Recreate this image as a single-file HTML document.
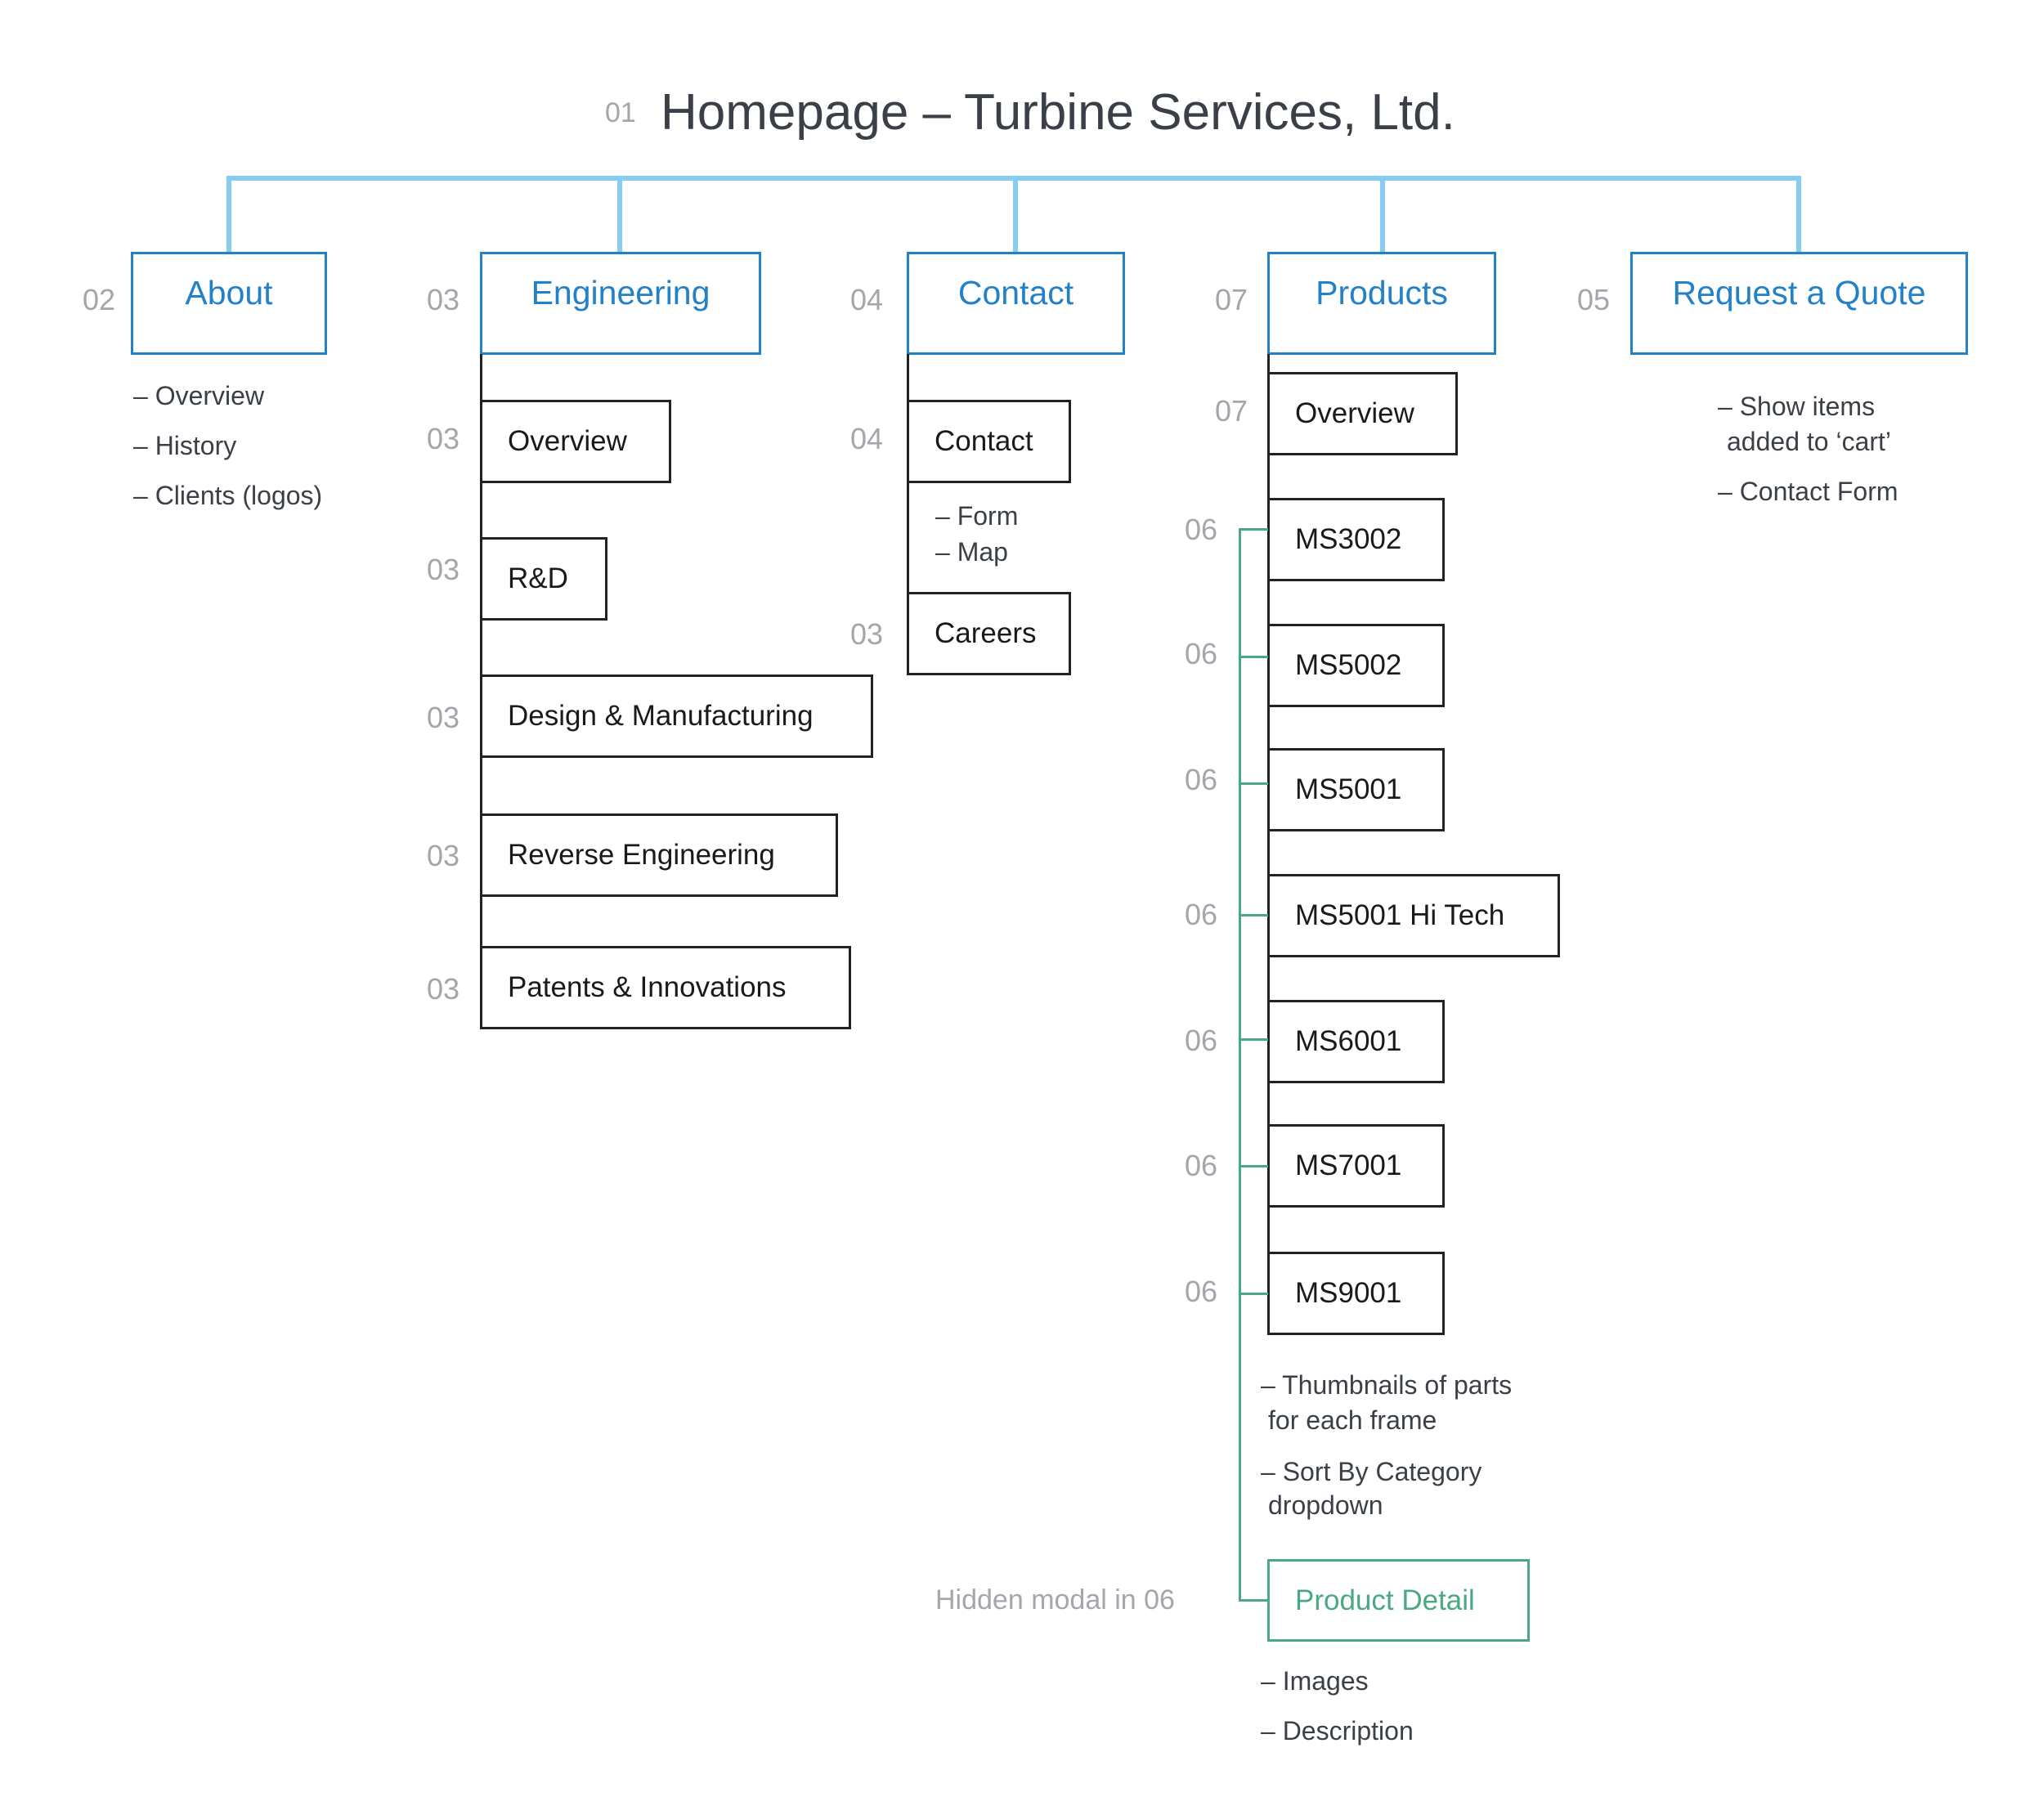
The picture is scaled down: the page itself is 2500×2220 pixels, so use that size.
<!DOCTYPE html>
<html><head><meta charset="utf-8"><style>
body{margin:0;width:2500px;height:2220px;background:#fff;position:relative;overflow:hidden;font-family:"Liberation Sans",sans-serif}
div{position:absolute;box-sizing:border-box;white-space:nowrap}
.t{height:60px;line-height:60px}
.g{color:#a3a6ab;font-size:36px}
.b{border:3px solid #2381c8;color:#2381c8;font-size:41px;line-height:94px;text-align:center}
.k{border:3px solid #222;color:#1a1a1a;font-size:35px;line-height:95px;padding-left:31px}
.n{color:#3a3f48;font-size:32px}
.bl{background:#86cdf2}
.bk{background:#222}
.gr{background:#4aa882}
</style></head><body>
<div class="t g" style="left:740px;top:108px;font-size:34px">01</div>
<div style="left:808px;top:96px;height:84px;line-height:84px;font-size:62px;color:#3a3f48">Homepage – Turbine Services, Ltd.</div>

<div class="bl" style="left:277px;top:215px;width:1926px;height:6px"></div>
<div class="bl" style="left:277px;top:215px;width:6px;height:95px"></div>
<div class="bl" style="left:755px;top:215px;width:6px;height:95px"></div>
<div class="bl" style="left:1239px;top:215px;width:6px;height:95px"></div>
<div class="bl" style="left:1688px;top:215px;width:6px;height:95px"></div>
<div class="bl" style="left:2197px;top:215px;width:6px;height:95px"></div>

<div class="b" style="left:160px;top:308px;width:240px;height:126px">About</div>
<div class="b" style="left:587px;top:308px;width:344px;height:126px">Engineering</div>
<div class="b" style="left:1109px;top:308px;width:267px;height:126px">Contact</div>
<div class="b" style="left:1550px;top:308px;width:280px;height:126px">Products</div>
<div class="b" style="left:1994px;top:308px;width:413px;height:126px">Request a Quote</div>
<div class="t g" style="left:101px;top:337px">02</div>
<div class="t g" style="left:522px;top:337px">03</div>
<div class="t g" style="left:1040px;top:337px">04</div>
<div class="t g" style="left:1486px;top:337px">07</div>
<div class="t g" style="left:1929px;top:337px">05</div>

<div class="t n" style="left:163px;top:454px">– Overview</div>
<div class="t n" style="left:163px;top:515px">– History</div>
<div class="t n" style="left:163px;top:576px">– Clients (logos)</div>

<div class="bk" style="left:587px;top:433px;width:3px;height:825px"></div>
<div class="k" style="left:587px;top:489px;width:234px;height:102px">Overview</div>
<div class="k" style="left:587px;top:657px;width:156px;height:102px">R&amp;D</div>
<div class="k" style="left:587px;top:825px;width:481px;height:102px">Design &amp; Manufacturing</div>
<div class="k" style="left:587px;top:995px;width:438px;height:102px">Reverse Engineering</div>
<div class="k" style="left:587px;top:1157px;width:454px;height:102px">Patents &amp; Innovations</div>
<div class="t g" style="left:522px;top:507px">03</div>
<div class="t g" style="left:522px;top:667px">03</div>
<div class="t g" style="left:522px;top:848px">03</div>
<div class="t g" style="left:522px;top:1017px">03</div>
<div class="t g" style="left:522px;top:1180px">03</div>

<div class="bk" style="left:1109px;top:433px;width:3px;height:393px"></div>
<div class="k" style="left:1109px;top:489px;width:201px;height:102px">Contact</div>
<div class="k" style="left:1109px;top:724px;width:201px;height:102px">Careers</div>
<div class="t g" style="left:1040px;top:507px">04</div>
<div class="t g" style="left:1040px;top:746px">03</div>
<div class="t n" style="left:1144px;top:601px">– Form</div>
<div class="t n" style="left:1144px;top:645px">– Map</div>

<div class="bk" style="left:1550px;top:433px;width:3px;height:1198px"></div>
<div class="k" style="left:1550px;top:455px;width:233px;height:102px">Overview</div>
<div class="k" style="left:1550px;top:609px;width:217px;height:102px">MS3002</div>
<div class="k" style="left:1550px;top:763px;width:217px;height:102px">MS5002</div>
<div class="k" style="left:1550px;top:915px;width:217px;height:102px">MS5001</div>
<div class="k" style="left:1550px;top:1069px;width:358px;height:102px">MS5001 Hi Tech</div>
<div class="k" style="left:1550px;top:1223px;width:217px;height:102px">MS6001</div>
<div class="k" style="left:1550px;top:1375px;width:217px;height:102px">MS7001</div>
<div class="k" style="left:1550px;top:1531px;width:217px;height:102px">MS9001</div>
<div class="t g" style="left:1486px;top:473px">07</div>

<div class="gr" style="left:1515px;top:646px;width:3px;height:1313px"></div>
<div class="gr" style="left:1515px;top:646px;width:36px;height:3px"></div>
<div class="gr" style="left:1515px;top:802px;width:36px;height:3px"></div>
<div class="gr" style="left:1515px;top:957px;width:36px;height:3px"></div>
<div class="gr" style="left:1515px;top:1118px;width:36px;height:3px"></div>
<div class="gr" style="left:1515px;top:1270px;width:36px;height:3px"></div>
<div class="gr" style="left:1515px;top:1425px;width:36px;height:3px"></div>
<div class="gr" style="left:1515px;top:1581px;width:36px;height:3px"></div>
<div class="gr" style="left:1515px;top:1956px;width:36px;height:3px"></div>
<div class="t g" style="left:1449px;top:618px">06</div>
<div class="t g" style="left:1449px;top:770px">06</div>
<div class="t g" style="left:1449px;top:924px">06</div>
<div class="t g" style="left:1449px;top:1089px">06</div>
<div class="t g" style="left:1449px;top:1243px">06</div>
<div class="t g" style="left:1449px;top:1396px">06</div>
<div class="t g" style="left:1449px;top:1550px">06</div>

<div class="t n" style="left:1542px;top:1664px">– Thumbnails of parts</div>
<div class="t n" style="left:1551px;top:1707px">for each frame</div>
<div class="t n" style="left:1542px;top:1770px">– Sort By Category</div>
<div class="t n" style="left:1551px;top:1811px">dropdown</div>

<div class="k" style="left:1550px;top:1907px;width:321px;height:101px;border-color:#4aa882;color:#4aa882">Product Detail</div>
<div class="t g" style="left:1144px;top:1927px;font-size:34px">Hidden modal in 06</div>
<div class="t n" style="left:1542px;top:2026px">– Images</div>
<div class="t n" style="left:1542px;top:2087px">– Description</div>

<div class="t n" style="left:2101px;top:467px">– Show items</div>
<div class="t n" style="left:2112px;top:510px">added to ‘cart’</div>
<div class="t n" style="left:2101px;top:571px">– Contact Form</div>
</body></html>
